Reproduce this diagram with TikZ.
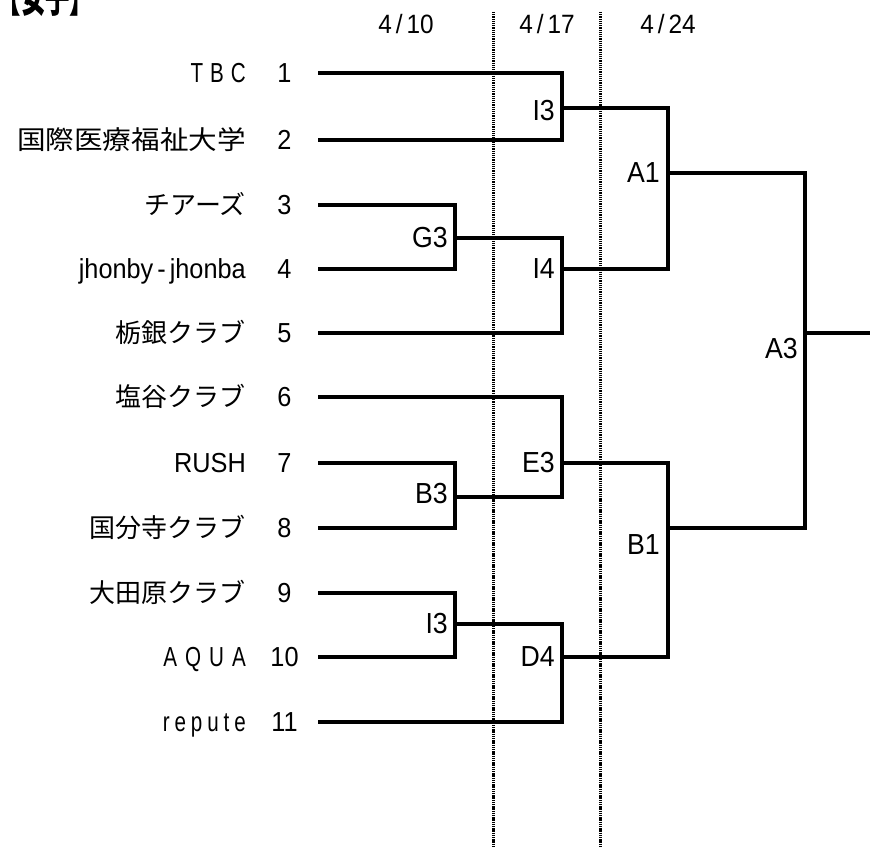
\documentclass[tikz,border=0pt]{standalone}
\usepackage{fontspec}
\setmainfont{Liberation Sans}[FakeStretch=0.92]
\newfontfamily\cjk{Noto Sans CJK JP}
\newfontfamily\narrowfont[FakeStretch=0.75]{Liberation Sans}
\usetikzlibrary{positioning}

\tikzset{
  bracket/.style={line width=3.3pt, line join=miter},
  dayline/.style={line width=3pt, dash pattern=on 1.3pt off 0.9pt},
  team/.style={anchor=base east, inner sep=0pt, font=\fontsize{27.5}{30}\selectfont},
  seed/.style={anchor=base, inner sep=0pt, font=\fontsize{27.5}{30}\selectfont},
  game/.style={anchor=east, inner sep=0pt, font=\fontsize{29}{32}\selectfont},
  day/.style={inner sep=0pt, font=\fontsize{26.5}{30}\selectfont}
}

\begin{document}
\begin{tikzpicture}[x=1pt,y=-1pt]
\useasboundingbox (0,0) rectangle (870,848);

% title (cut off at the top)
\node[anchor=base west, inner sep=0pt, font=\fontsize{40}{44}\selectfont\cjk\bfseries\addfontfeature{FakeStretch=0.61}] (title) at (-3.5,12.2) {【女子】};

% dates
\node[day] (d1) at (406,24) {4\kern4pt/\kern4pt10};
\node[day] (d2) at (547,24) {4\kern4pt/\kern4pt17};
\node[day] (d3) at (668,24) {4\kern4pt/\kern4pt24};
\draw[dayline] (493,12) -- (493,848);
\draw[dayline] (600,12) -- (600,848);

% teams
\node[team] (n1) at (246,82.5) {\narrowfont T\kern7pt B\kern7pt C};
\node[team] (n2) at (246,149.5) {\cjk\fontsize{26}{30}\selectfont\addfontfeature{FakeStretch=1.1}国際医療福祉大学};
\node[team] (n3) at (246,214.5) {\cjk\fontsize{26}{30}\selectfont チアーズ};
\node[team] (n4) at (246,278.5) {jhonby\kern4pt-\kern4pt jhonba};
\node[team] (n5) at (246,342.5) {\cjk\fontsize{26}{30}\selectfont 栃銀クラブ};
\node[team] (n6) at (246,406.5) {\cjk\fontsize{26}{30}\selectfont 塩谷クラブ};
\node[team] (n7) at (246,472.5) {RUSH};
\node[team] (n8) at (246,537.5) {\cjk\fontsize{26}{30}\selectfont 国分寺クラブ};
\node[team] (n9) at (246,602.5) {\cjk\fontsize{26}{30}\selectfont 大田原クラブ};
\node[team] (n10) at (246,666.5) {\narrowfont A\kern8pt Q\kern8pt U\kern8pt A};
\node[team] (n11) at (246,731.5) {\narrowfont r\kern4.9pt e\kern4.9pt p\kern4.9pt u\kern4.9pt t\kern4.9pt e};

% draw numbers
\node[seed] (s1) at (284.5,82.5) {1};
\node[seed] (s2) at (284.5,149.5) {2};
\node[seed] (s3) at (284.5,214.5) {3};
\node[seed] (s4) at (284.5,278.5) {4};
\node[seed] (s5) at (284.5,342.5) {5};
\node[seed] (s6) at (284.5,406.5) {6};
\node[seed] (s7) at (284.5,472.5) {7};
\node[seed] (s8) at (284.5,537.5) {8};
\node[seed] (s9) at (284.5,602.5) {9};
\node[seed] (s10) at (284.5,666.5) {10};
\node[seed] (s11) at (284.5,731.5) {11};

% line starts
\coordinate (t1) at (318,73);
\coordinate (t2) at (318,140);
\coordinate (t3) at (318,205);
\coordinate (t4) at (318,269);
\coordinate (t5) at (318,333);
\coordinate (t6) at (318,397);
\coordinate (t7) at (318,463);
\coordinate (t8) at (318,528);
\coordinate (t9) at (318,593);
\coordinate (t10) at (318,657);
\coordinate (t11) at (318,722);

% games
\coordinate (g3) at (455,238);
\coordinate (b3) at (455,497);
\coordinate (i3b) at (455,624);
\coordinate (i3a) at (562,108);
\coordinate (i4) at (562,269);
\coordinate (e3) at (562,463);
\coordinate (d4) at (562,657);
\coordinate (a1) at (668,173);
\coordinate (b1) at (668,528);
\coordinate (a3) at (805,333);
\coordinate (win) at (870,333);

% bracket lines
\draw[bracket] (t1) -| (i3a) |- (t2);
\draw[bracket] (t3) -| (g3) |- (t4);
\draw[bracket] (g3) -| (i4) |- (t5);
\draw[bracket] (i3a) -| (a1) |- (i4);
\draw[bracket] (t7) -| (b3) |- (t8);
\draw[bracket] (t6) -| (e3) |- (b3);
\draw[bracket] (t9) -| (i3b) |- (t10);
\draw[bracket] (i3b) -| (d4) |- (t11);
\draw[bracket] (e3) -| (b1) |- (d4);
\draw[bracket] (a1) -| (a3) |- (b1);
\draw[bracket] (a3) -- (win);

% game labels
\node[game, left=7pt of g3] (lg3) {G3};
\node[game, left=7pt of b3, yshift=3pt] (lb3) {B3};
\node[game, left=7pt of i3b] (li3b) {I3};
\node[game, left=7pt of i3a, yshift=-3pt] (li3a) {I3};
\node[game, left=7pt of i4] (li4) {I4};
\node[game, left=7pt of e3] (le3) {E3};
\node[game, left=7pt of d4] (ld4) {D4};
\node[game, left=8pt of a1] (la1) {A1};
\node[game, left=8pt of b1, yshift=-17pt] (lb1) {B1};
\node[game, left=7pt of a3, yshift=-16pt] (la3) {A3};
\end{tikzpicture}
\end{document}
